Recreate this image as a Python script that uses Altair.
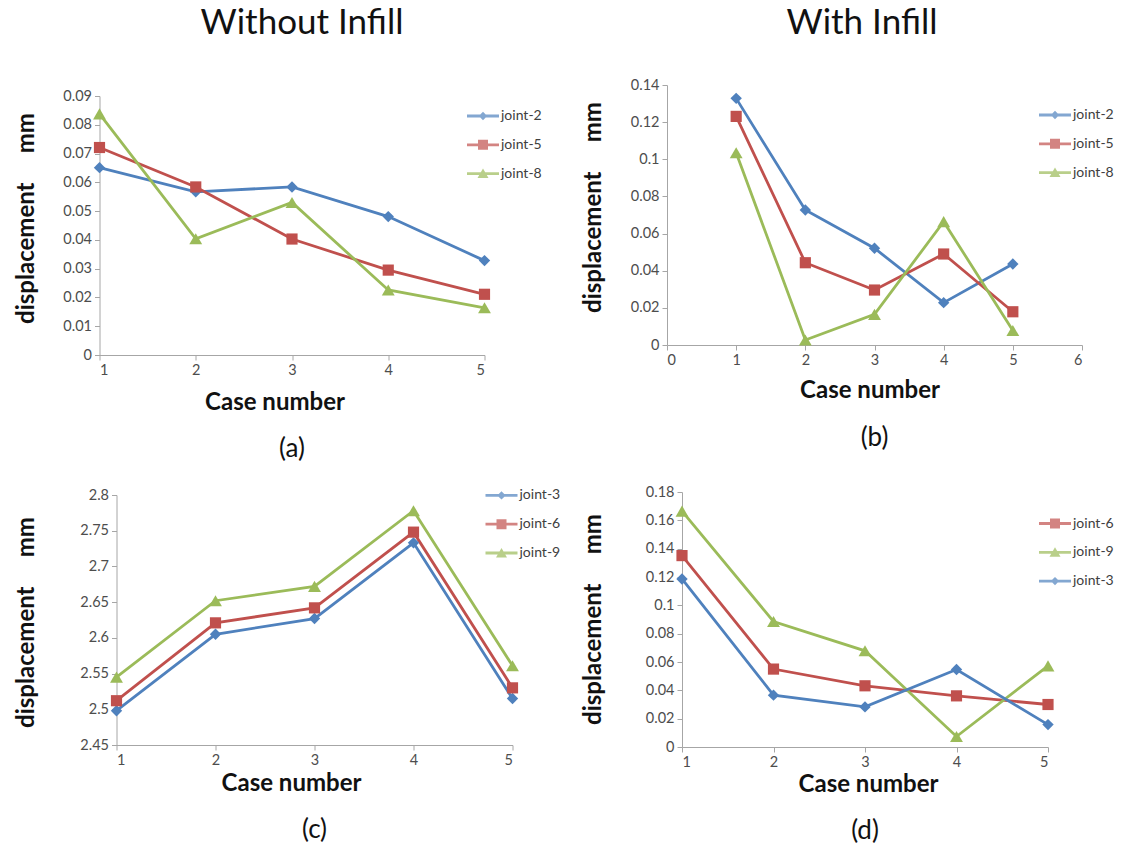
import altair as alt
import pandas as pd

FONT = "Lato"

cases = [1, 2, 3, 4, 5]

# ---- (a) Without infill, upper joints
a_series = ["joint-2", "joint-5", "joint-8"]
a_joint2 = [0.0651, 0.0567, 0.0584, 0.0481, 0.0328]
a_joint5 = [0.0721, 0.0584, 0.0403, 0.0295, 0.0211]
a_joint8 = [0.0838, 0.0404, 0.0530, 0.0226, 0.0164]
a_xticks = [1, 2, 3, 4, 5]
a_yticks = [0, 0.01, 0.02, 0.03, 0.04, 0.05, 0.06, 0.07, 0.08, 0.09]

# ---- (b) With infill, upper joints
b_series = ["joint-2", "joint-5", "joint-8"]
b_joint2 = [0.1328, 0.0727, 0.0521, 0.0228, 0.0436]
b_joint5 = [0.1231, 0.0443, 0.0296, 0.0490, 0.0179]
b_joint8 = [0.1035, 0.0027, 0.0165, 0.0664, 0.0078]
b_xticks = [0, 1, 2, 3, 4, 5, 6]
b_yticks = [0, 0.02, 0.04, 0.06, 0.08, 0.1, 0.12, 0.14]

# ---- (c) Without infill, lower joints
c_series = ["joint-3", "joint-6", "joint-9"]
c_joint3 = [2.498, 2.605, 2.627, 2.733, 2.515]
c_joint6 = [2.512, 2.621, 2.642, 2.748, 2.530]
c_joint9 = [2.545, 2.652, 2.672, 2.778, 2.561]
c_xticks = [1, 2, 3, 4, 5]
c_yticks = [2.45, 2.5, 2.55, 2.6, 2.65, 2.7, 2.75, 2.8]

# ---- (d) With infill, lower joints
d_series = ["joint-6", "joint-9", "joint-3"]
d_joint6 = [0.1351, 0.0550, 0.0432, 0.0361, 0.0300]
d_joint9 = [0.1665, 0.0886, 0.0679, 0.0074, 0.0573]
d_joint3 = [0.1186, 0.0366, 0.0283, 0.0547, 0.0158]
d_xticks = [1, 2, 3, 4, 5]
d_yticks = [0, 0.02, 0.04, 0.06, 0.08, 0.1, 0.12, 0.14, 0.16, 0.18]

BLUE, RED, GREEN = "#4F81BD", "#C0504D", "#9BBB59"
STYLE = {
    "blue": (BLUE, "diamond", 130,
             "M-1.6,-0.14H1.6V0.14H-1.6Z M0,-0.42L0.42,0L0,0.42L-0.42,0Z"),
    "red": (RED, "square", 125,
            "M-1.6,-0.14H1.6V0.14H-1.6Z M-0.5,-0.5H0.5V0.5H-0.5Z"),
    "green": (GREEN, "triangle-up", 165,
              "M-1.6,-0.14H1.6V0.14H-1.6Z M0,-0.5L0.55,0.45H-0.55Z"),
}

YTITLE = "displacement\u00a0\u00a0\u00a0\u00a0\u00a0mm"
IND = dict(color="independent", shape="independent")


def panel(key, names, series_vals, styles, xdom, xticks, ydom, yticks,
          w, h, cap, cap_off, xt_x, xt_y, yt_x, yt_y, leg_x, leg_y):
    field = f"series_{key}"
    rows = []
    for n, vals in zip(names, series_vals):
        for c, v in zip(cases, vals):
            rows.append({"case": c, "value": v, field: n})
    df = pd.DataFrame(rows)

    x = alt.X("case:Q",
              scale=alt.Scale(domain=xdom, nice=False, zero=False),
              axis=alt.Axis(values=xticks, format="d", title="Case number",
                            titleX=xt_x, titleY=xt_y, titleBaseline="middle",
                            titleAnchor="start", titleAlign="center"))
    y = alt.Y("value:Q",
              scale=alt.Scale(domain=ydom, nice=False, zero=False),
              axis=alt.Axis(values=yticks, format="~g", title=YTITLE,
                            titleX=yt_x, titleY=yt_y, titleBaseline="middle",
                            titleAngle=270, titleAlign="center"))

    layers = []
    for n, st in zip(names, styles):
        col, shp, size, _ = STYLE[st]
        sub = alt.Chart(df).transform_filter(alt.datum[field] == n)
        layers.append(sub.mark_line(color=col, strokeWidth=2.8).encode(x=x, y=y))
    for n, st in zip(names, styles):
        col, shp, size, _ = STYLE[st]
        sub = alt.Chart(df).transform_filter(alt.datum[field] == n)
        layers.append(sub.mark_point(color=col, shape=shp, size=size, filled=True,
                                     opacity=1).encode(x=x, y=y))

    leg = alt.Legend(title=None, orient="none", legendX=leg_x, legendY=leg_y,
                     symbolSize=400, symbolStrokeWidth=0, labelOffset=8,
                     labelFont=FONT, labelFontSize=14, labelColor="#404040",
                     rowPadding=11.8, padding=0)
    legend_layer = alt.Chart(df).transform_filter("datum.case < 0").mark_point(
        filled=True).encode(
        x=x, y=y,
        color=alt.Color(f"{field}:N", scale=alt.Scale(
            domain=names, range=[STYLE[s][0] for s in styles]), legend=leg),
        shape=alt.Shape(f"{field}:N", scale=alt.Scale(
            domain=names, range=[STYLE[s][3] for s in styles]), legend=leg),
    )
    layers.append(legend_layer)

    return alt.layer(*layers).properties(
        width=w, height=h,
        title=alt.TitleParams(cap, orient="bottom", offset=cap_off, fontSize=26,
                              fontWeight="normal", font=FONT, color="#111"),
    )


def spacer(w, h):
    # empty, invisible view used only to shift a panel inside the grid layout
    return alt.Chart(pd.DataFrame({"z": [0]})).mark_point(size=0, opacity=0).encode(
        x=alt.X("z:Q", axis=None, scale=alt.Scale(domain=[0, 1])),
        y=alt.Y("z:Q", axis=None, scale=alt.Scale(domain=[0, 1])),
    ).properties(width=w, height=h)


def shifted(p):
    return alt.concat(spacer(1, 1), p, columns=2, align="none",
                      spacing={"row": 0, "column": 0}).resolve_scale(**IND)


pa = panel("a", a_series, [a_joint2, a_joint5, a_joint8], ["blue", "red", "green"],
           [1, 5], a_xticks, [0, 0.09], a_yticks, 385, 259, "(a)", 21.5,
           175, 47, -73, 122, 373.5, 10)
pb = panel("b", b_series, [b_joint2, b_joint5, b_joint8], ["blue", "red", "green"],
           [0, 6], b_xticks, [0, 0.14], b_yticks, 415, 260, "(b)", 22.5,
           202.5, 45, -74, 122, 378, 20)
pc = panel("c", c_series, [c_joint3, c_joint6, c_joint9], ["blue", "red", "green"],
           [1, 5], c_xticks, [2.45, 2.8], c_yticks, 396, 250, "(c)", 21.5,
           174.5, 38, -90, 127, 375, -9.6)
pd_ = panel("d", d_series, [d_joint6, d_joint9, d_joint3], ["red", "green", "blue"],
            [1, 5], d_xticks, [0, 0.18], d_yticks, 366, 255, "(d)", 21.5,
            186, 37, -89, 127, 363, 21.5)

col1 = alt.concat(spacer(1, 24), shifted(pa), shifted(pc), columns=1, align="none",
                  spacing={"row": 23, "column": 0},
                  title=alt.TitleParams(
                      "Without Infill", fontSize=35, fontWeight="normal", font=FONT,
                      color="#111", offset=0.5, anchor="middle", dx=15)
                  ).resolve_scale(**IND)
col2 = alt.concat(spacer(1, 3), shifted(pb), shifted(pd_), columns=1, align="none",
                  spacing={"row": 33, "column": 0},
                  title=alt.TitleParams(
                      "With Infill", fontSize=35, fontWeight="normal", font=FONT,
                      color="#111", offset=0.5, anchor="middle", dx=15)
                  ).resolve_scale(**IND)

chart = alt.concat(col1, col2, columns=2, align="none",
                   spacing={"row": 0, "column": 19.5}).resolve_scale(**IND).properties(
    padding={"left": 13.5, "top": 5, "right": 2, "bottom": 2},
    background="white",
).configure_view(stroke=None).configure_axis(
    grid=False, domainColor="#A6A6A6", tickColor="#A6A6A6", tickSize=5,
    labelColor="#4d4d4d", labelFont=FONT, labelFontSize=14.5, labelPadding=3,
    titleFont=FONT, titleFontSize=24, titleFontWeight="bold", titleColor="#111",
).configure_legend(labelFont=FONT)

chart.save("out.html", embed_options={"renderer": "svg", "actions": False})
